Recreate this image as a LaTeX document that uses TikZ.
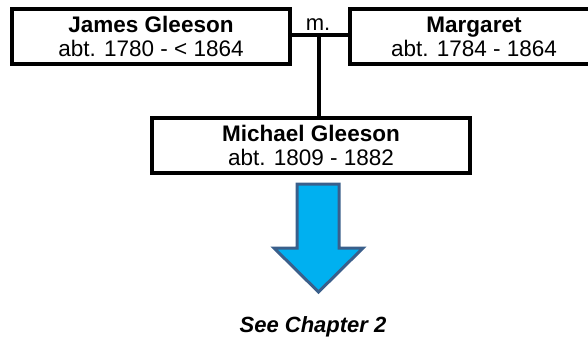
\documentclass[tikz,border=0pt]{standalone}
\usepackage{fontspec}
\setmainfont{Liberation Sans}
\definecolor{arrowfill}{HTML}{00B0F0}
\definecolor{arrowline}{HTML}{3A5F8B}
\begin{document}
\begin{tikzpicture}[x=1pt,y=-1pt,
  person/.style={draw=black, line width=3.2pt, fill=white, rectangle, inner sep=0pt,
    align=center, font=\fontsize{22.5}{24}\selectfont},
  conn/.style={draw=black, line width=3.2pt},
  lbl/.style={inner sep=0pt, font=\fontsize{22}{23}\selectfont}]
\useasboundingbox (0,0) rectangle (588,341);
\node[person, minimum width=278pt, minimum height=55pt] (james) at (151,36.5)
  {\textbf{James Gleeson}\\abt. 1780 - < 1864};
\node[person, minimum width=248pt, minimum height=55pt] (margaret) at (474,36.5)
  {\textbf{Margaret}\\abt. 1784 - 1864};
\node[person, minimum width=318pt, minimum height=55pt] (michael) at (311,145.5)
  {\textbf{Michael Gleeson}\\abt. 1809 - 1882};
\coordinate (mid) at (319,35);
\draw[conn] (mid -| james.east) -- (mid -| margaret.west);
\draw[conn] (mid) -- (mid |- michael.north);
\node[lbl, anchor=base] (m) at (318,30) {m.};
\draw[fill=arrowfill, draw=arrowline, line width=3pt, line join=miter]
  (297,184) -- (339,184) -- (339,248) -- (363,248) -- (318.5,292) -- (274,248) -- (297,248) -- cycle;
\node[lbl, anchor=base] (see) at (313,332) {\textbf{\textit{See Chapter 2}}};
\end{tikzpicture}
\end{document}
